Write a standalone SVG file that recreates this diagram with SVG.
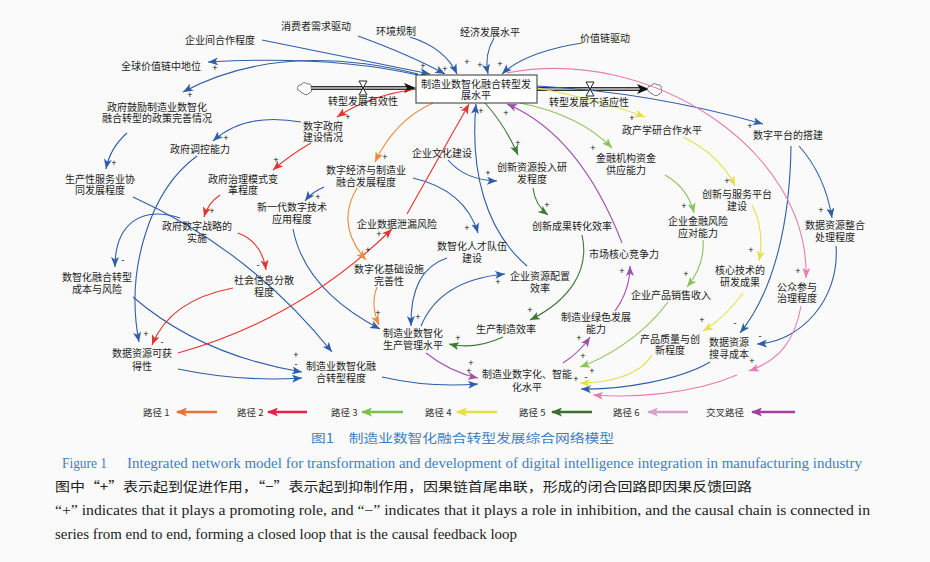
<svg xmlns="http://www.w3.org/2000/svg" width="930" height="562" viewBox="0 0 930 562">
<defs>
<style>
.n{font-family:"Noto Sans CJK SC","Noto Sans",sans-serif;font-size:10px;fill:#222;text-anchor:middle}
.s{font-family:"Liberation Sans",sans-serif;font-size:9px;fill:#111;text-anchor:middle}
.e{fill:none;stroke-width:1.1}
.b{stroke:#2e5ea8}.r{stroke:#e8322f}.o{stroke:#f08a3a}.g{stroke:#88c35a}.y{stroke:#e4e04a}.d{stroke:#3d7a33}.p{stroke:#e87db0}.u{stroke:#a04fb0}
.lg{fill:none;stroke-width:2.4}
.lt{font-family:"Noto Sans CJK SC","Noto Sans",sans-serif;font-size:9.5px;fill:#333}
</style>
<marker id="mb" markerUnits="userSpaceOnUse" markerWidth="10" markerHeight="8" refX="10" refY="4" orient="auto"><path d="M0,0 L10,4 L0,8 L2.5,4 Z" fill="#2e5ea8"/></marker>
<marker id="mr" markerUnits="userSpaceOnUse" markerWidth="10" markerHeight="8" refX="10" refY="4" orient="auto"><path d="M0,0 L10,4 L0,8 L2.5,4 Z" fill="#e8322f"/></marker>
<marker id="mo" markerUnits="userSpaceOnUse" markerWidth="10" markerHeight="8" refX="10" refY="4" orient="auto"><path d="M0,0 L10,4 L0,8 L2.5,4 Z" fill="#f08a3a"/></marker>
<marker id="mg" markerUnits="userSpaceOnUse" markerWidth="10" markerHeight="8" refX="10" refY="4" orient="auto"><path d="M0,0 L10,4 L0,8 L2.5,4 Z" fill="#88c35a"/></marker>
<marker id="my" markerUnits="userSpaceOnUse" markerWidth="10" markerHeight="8" refX="10" refY="4" orient="auto"><path d="M0,0 L10,4 L0,8 L2.5,4 Z" fill="#e4e04a"/></marker>
<marker id="md" markerUnits="userSpaceOnUse" markerWidth="10" markerHeight="8" refX="10" refY="4" orient="auto"><path d="M0,0 L10,4 L0,8 L2.5,4 Z" fill="#3d7a33"/></marker>
<marker id="mp" markerUnits="userSpaceOnUse" markerWidth="10" markerHeight="8" refX="10" refY="4" orient="auto"><path d="M0,0 L10,4 L0,8 L2.5,4 Z" fill="#e87db0"/></marker>
<marker id="mu" markerUnits="userSpaceOnUse" markerWidth="10" markerHeight="8" refX="10" refY="4" orient="auto"><path d="M0,0 L10,4 L0,8 L2.5,4 Z" fill="#a04fb0"/></marker>
<marker id="l1" markerUnits="userSpaceOnUse" markerWidth="11" markerHeight="9" refX="10" refY="4.5" orient="auto"><path d="M0,0 L11,4.5 L0,9 L2.5,4.5 Z" fill="#e8703a"/></marker>
<marker id="l2" markerUnits="userSpaceOnUse" markerWidth="11" markerHeight="9" refX="10" refY="4.5" orient="auto"><path d="M0,0 L11,4.5 L0,9 L2.5,4.5 Z" fill="#e8204a"/></marker>
<marker id="l3" markerUnits="userSpaceOnUse" markerWidth="11" markerHeight="9" refX="10" refY="4.5" orient="auto"><path d="M0,0 L11,4.5 L0,9 L2.5,4.5 Z" fill="#7cc04c"/></marker>
<marker id="l4" markerUnits="userSpaceOnUse" markerWidth="11" markerHeight="9" refX="10" refY="4.5" orient="auto"><path d="M0,0 L11,4.5 L0,9 L2.5,4.5 Z" fill="#e6e040"/></marker>
<marker id="l5" markerUnits="userSpaceOnUse" markerWidth="11" markerHeight="9" refX="10" refY="4.5" orient="auto"><path d="M0,0 L11,4.5 L0,9 L2.5,4.5 Z" fill="#3b7030"/></marker>
<marker id="l6" markerUnits="userSpaceOnUse" markerWidth="11" markerHeight="9" refX="10" refY="4.5" orient="auto"><path d="M0,0 L11,4.5 L0,9 L2.5,4.5 Z" fill="#d8a0d0"/></marker>
<marker id="l7" markerUnits="userSpaceOnUse" markerWidth="11" markerHeight="9" refX="10" refY="4.5" orient="auto"><path d="M0,0 L11,4.5 L0,9 L2.5,4.5 Z" fill="#a040a0"/></marker>
</defs>
<rect width="930" height="562" fill="#fafafa"/>

<g id="flows">
<path d="M300,91 a3,3 0 0 1 1,-6 a3.5,3.5 0 0 1 6,-1 a3,3 0 0 1 4,4 a3,3 0 0 1 -2,5 a3.5,3.5 0 0 1 -6,0 a3,3 0 0 1 -3,-2 z" fill="#fff" stroke="#555" stroke-width="0.8"/>
<line x1="311" y1="88" x2="407" y2="88" stroke="#333" stroke-width="4"/>
<line x1="311" y1="88" x2="407" y2="88" stroke="#c8c8c8" stroke-width="1.6"/>
<polygon points="404,83 416,88 404,93 407,88" fill="#111"/>
<path d="M359,81 H367 L363,88 Z M359,95 H367 L363,88 Z" fill="#fff" stroke="#111" stroke-width="0.9"/>
<line x1="537" y1="89" x2="640" y2="89" stroke="#333" stroke-width="4"/>
<line x1="537" y1="89" x2="640" y2="89" stroke="#c8c8c8" stroke-width="1.6"/>
<polygon points="637,84 649,89 637,94 640,89" fill="#111"/>
<path d="M586,82 H594 L590,89 Z M586,96 H594 L590,89 Z" fill="#fff" stroke="#111" stroke-width="0.9"/>
<path d="M650,92 a3,3 0 0 1 1,-6 a3.5,3.5 0 0 1 6,-1 a3,3 0 0 1 4,4 a3,3 0 0 1 -2,5 a3.5,3.5 0 0 1 -6,0 a3,3 0 0 1 -3,-2 z" fill="#fff" stroke="#555" stroke-width="0.8"/>
</g>

<g id="connectors">
<path class="e b" marker-end="url(#mb)" d="M262,40 L430,74"/>
<path class="e b" marker-end="url(#mb)" d="M358,36 Q410,55 445,74"/>
<path class="e b" marker-end="url(#mb)" d="M410,37 Q445,48 457,74"/>
<path class="e b" marker-end="url(#mb)" d="M494,38 Q484,55 488,74"/>
<path class="e b" marker-end="url(#mb)" d="M582,43 Q525,52 502,74"/>
<path class="e b" marker-end="url(#mb)" d="M418,75 Q330,55 208,62"/>
<path class="e b" marker-end="url(#mb)" d="M418,74 Q280,40 183,92"/>
<path class="e b" marker-end="url(#mb)" d="M537,86 Q650,92 763,124"/>
<path class="e b" marker-end="url(#mb)" d="M799,146 Q825,175 832,218"/>
<path class="e b" marker-end="url(#mb)" d="M791,146 C790,220 775,290 740,333"/>
<path class="e b" marker-end="url(#mb)" d="M836,246 C840,300 800,342 757,344"/>
<path class="e b" marker-end="url(#mb)" d="M710,362 C680,380 620,390 581,389"/>
<path class="e b" marker-end="url(#mb)" d="M448,160 Q465,180 497,181"/>
<path class="e b" marker-end="url(#mb)" d="M413,178 Q465,190 478,233"/>
<path class="e b" marker-end="url(#mb)" d="M324,187 Q312,192 305,201"/>
<path class="e b" marker-end="url(#mb)" d="M447,258 Q410,270 411,326"/>
<path class="e b" marker-end="url(#mb)" d="M421,326 Q440,280 505,274"/>
<path class="e b" marker-end="url(#mb)" d="M527,266 C485,230 470,170 476,104"/>
<path class="e b" marker-end="url(#mb)" d="M133,197 Q250,250 332,352"/>
<path class="e b" marker-end="url(#mb)" d="M293,229 Q305,290 380,329"/>
<path class="e b" marker-end="url(#mb)" d="M197,156 C150,190 125,270 139,342"/>
<path class="e b" marker-end="url(#mb)" d="M301,122 Q245,112 213,141"/>
<path class="e b" marker-end="url(#mb)" d="M127,133 Q110,148 106,169"/>
<path class="e b" marker-end="url(#mb)" d="M180,218 C140,205 115,225 115,267"/>
<path class="e b" marker-end="url(#mb)" d="M133,297 Q200,355 302,372"/>
<path class="e b" marker-end="url(#mb)" d="M178,369 Q240,382 302,378"/>
<path class="e b" marker-end="url(#mb)" d="M382,377 Q430,388 478,384"/>

<path class="e r" marker-end="url(#mr)" d="M417,89 Q370,95 337,117"/>
<path class="e r" marker-end="url(#mr)" d="M311,143 Q290,155 273,170"/>
<path class="e r" marker-end="url(#mr)" d="M220,195 Q208,203 204,217"/>
<path class="e r" marker-end="url(#mr)" d="M238,233 Q262,242 266,270"/>
<path class="e r" marker-end="url(#mr)" d="M233,288 Q170,300 152,345"/>
<path class="e r" marker-end="url(#mr)" d="M178,353 C260,330 330,290 392,229"/>
<path class="e r" marker-end="url(#mr)" d="M407,214 L469,104"/>

<path class="e o" marker-end="url(#mo)" d="M433,103 Q395,120 375,162"/>
<path class="e o" marker-end="url(#mo)" d="M357,188 Q335,225 366,260"/>
<path class="e o" marker-end="url(#mo)" d="M377,287 Q370,305 379,325"/>

<path class="e g" marker-end="url(#mg)" d="M520,103 Q580,115 612,148"/>
<path class="e g" marker-end="url(#mg)" d="M665,175 Q688,188 694,213"/>
<path class="e g" marker-end="url(#mg)" d="M703,240 Q705,265 687,287"/>
<path class="e g" marker-end="url(#mg)" d="M668,302 C640,340 600,360 580,367"/>

<path class="e y" marker-end="url(#my)" d="M537,88 Q600,100 645,117"/>
<path class="e y" marker-end="url(#my)" d="M683,137 Q720,155 735,186"/>
<path class="e y" marker-end="url(#my)" d="M752,205 Q765,230 759,261"/>
<path class="e y" marker-end="url(#my)" d="M743,293 Q725,318 703,331"/>
<path class="e y" marker-end="url(#my)" d="M652,355 C640,375 610,383 580,383"/>

<path class="e d" marker-end="url(#md)" d="M485,103 Q505,125 518,155"/>
<path class="e d" marker-end="url(#md)" d="M533,188 Q535,205 548,215"/>
<path class="e d" marker-end="url(#md)" d="M582,235 C590,270 570,300 530,320"/>
<path class="e d" marker-end="url(#md)" d="M503,337 Q475,350 449,344"/>

<path class="e p" marker-end="url(#mp)" d="M507,73 C650,45 810,150 806,278"/>
<path class="e p" marker-end="url(#mp)" d="M801,306 C795,340 780,360 749,371"/>
<path class="e p" marker-end="url(#mp)" d="M737,375 C690,395 630,398 593,395"/>

<path class="e u" marker-end="url(#mu)" d="M622,243 Q580,135 507,104"/>
<path class="e u" marker-end="url(#mu)" d="M615,311 Q630,290 630,266"/>
<path class="e u" marker-end="url(#mu)" d="M563,363 Q580,352 590,337"/>
<path class="e u" marker-end="url(#mu)" d="M426,353 Q450,372 478,378"/>

<g id="polarity">
<text class="s" x="423" y="69">+</text><text class="s" x="445" y="72">+</text><text class="s" x="467" y="65">+</text><text class="s" x="480" y="68">+</text><text class="s" x="500" y="67">+</text>
<text class="s" x="215" y="71">+</text><text class="s" x="190" y="98">+</text>
<text class="s" x="750" y="129">+</text><text class="s" x="821" y="213">+</text>
<text class="s" x="735" y="326">-</text><text class="s" x="760" y="339">-</text>
<text class="s" x="488" y="176">+</text><text class="s" x="467" y="231">+</text><text class="s" x="318" y="200">+</text>
<text class="s" x="418" y="320">+</text><text class="s" x="498" y="285">+</text><text class="s" x="481" y="114">+</text>
<text class="s" x="146" y="337">+</text><text class="s" x="226" y="141">+</text><text class="s" x="114" y="166">+</text>
<text class="s" x="123" y="263">-</text><text class="s" x="296" y="358">+</text><text class="s" x="296" y="367">-</text>
<text class="s" x="348" y="120">+</text><text class="s" x="276" y="163">+</text><text class="s" x="212" y="214">+</text>
<text class="s" x="258" y="268">-</text><text class="s" x="162" y="345">-</text><text class="s" x="379" y="237">+</text><text class="s" x="461" y="110">-</text>
<text class="s" x="385" y="160">+</text><text class="s" x="368" y="253">+</text><text class="s" x="378" y="316">+</text>
<text class="s" x="593" y="151">+</text><text class="s" x="684" y="209">+</text><text class="s" x="686" y="277">+</text><text class="s" x="583" y="359">+</text>
<text class="s" x="632" y="121">+</text><text class="s" x="727" y="184">+</text><text class="s" x="751" y="253">+</text><text class="s" x="702" y="323">+</text>
<text class="s" x="576" y="382">+</text><text class="s" x="586" y="380">-</text><text class="s" x="592" y="374">+</text>
<text class="s" x="518" y="146">+</text><text class="s" x="547" y="208">+</text><text class="s" x="530" y="313">+</text><text class="s" x="458" y="341">+</text>
<text class="s" x="798" y="274">+</text><text class="s" x="752" y="364">+</text>
<text class="s" x="506" y="116">+</text><text class="s" x="622" y="274">+</text><text class="s" x="579" y="341">+</text><text class="s" x="471" y="366">+</text><text class="s" x="469" y="374">+</text>
</g>
</g>

<g id="n-center"><rect x="416" y="75" width="121" height="28" fill="#fff" stroke="#333" stroke-width="1"/><text class="n" x="476"><tspan x="476" y="88">制造业数智化融合转型发</tspan><tspan x="476" y="99">展水平</tspan></text></g>
<g id="n-youxiao"><text class="n" x="363" y="104.5">转型发展有效性</text></g>
<g id="n-bushiying"><text class="n" x="589" y="105.5">转型发展不适应性</text></g>
<g id="n-hezuo"><text class="n" x="220" y="43.5">企业间合作程度</text></g>
<g id="n-xuqiu"><text class="n" x="316" y="29.5">消费者需求驱动</text></g>
<g id="n-huanjing"><text class="n" x="396" y="34.5">环境规制</text></g>
<g id="n-jingji"><text class="n" x="490" y="35.5">经济发展水平</text></g>
<g id="n-jiazhi"><text class="n" x="605" y="41.5">价值链驱动</text></g>
<g id="n-quanqiu"><text class="n" x="161" y="69.5">全球价值链中地位</text></g>
<g id="n-zhengce"><text class="n"><tspan x="157" y="110.5">政府鼓励制造业数智化</tspan><tspan x="157" y="122">融合转型的政策完善情况</tspan></text></g>
<g id="n-shuzizhengfu"><text class="n"><tspan x="323" y="129.5">数字政府</tspan><tspan x="323" y="141">建设情况</tspan></text></g>
<g id="n-tiaokong"><text class="n" x="200" y="152.5">政府调控能力</text></g>
<g id="n-fuwuye"><text class="n"><tspan x="100" y="182.5">生产性服务业协</tspan><tspan x="100" y="194">同发展程度</tspan></text></g>
<g id="n-zhili"><text class="n"><tspan x="243" y="182.5">政府治理模式变</tspan><tspan x="243" y="194">革程度</tspan></text></g>
<g id="n-shuzijingji"><text class="n"><tspan x="366" y="174">数字经济与制造业</tspan><tspan x="366" y="185.5">融合发展程度</tspan></text></g>
<g id="n-wenhua"><text class="n" x="442" y="156.5">企业文化建设</text></g>
<g id="n-chuangxinziyuan"><text class="n"><tspan x="532" y="171">创新资源投入研</tspan><tspan x="532" y="182.5">发程度</tspan></text></g>
<g id="n-xinyidai"><text class="n"><tspan x="292" y="211">新一代数字技术</tspan><tspan x="292" y="222.5">应用程度</tspan></text></g>
<g id="n-zhanlue"><text class="n"><tspan x="197" y="229.5">政府数字战略的</tspan><tspan x="197" y="241.5">实施</tspan></text></g>
<g id="n-xielou"><text class="n" x="397" y="227.5">企业数据泄漏风险</text></g>
<g id="n-chengguo"><text class="n" x="572" y="229.5">创新成果转化效率</text></g>
<g id="n-rencai"><text class="n"><tspan x="472" y="250">数智化人才队伍</tspan><tspan x="472" y="261.5">建设</tspan></text></g>
<g id="n-jingzheng"><text class="n" x="624" y="257.5">市场核心竞争力</text></g>
<g id="n-jichu"><text class="n"><tspan x="389" y="273">数字化基础设施</tspan><tspan x="389" y="284.5">完善性</tspan></text></g>
<g id="n-peizhi"><text class="n"><tspan x="540" y="280">企业资源配置</tspan><tspan x="540" y="291.5">效率</tspan></text></g>
<g id="n-chengben"><text class="n"><tspan x="97" y="280.5">数智化融合转型</tspan><tspan x="97" y="292.5">成本与风险</tspan></text></g>
<g id="n-fensan"><text class="n"><tspan x="264" y="284">社会信息分散</tspan><tspan x="264" y="295.5">程度</tspan></text></g>
<g id="n-zhizao"><text class="n" x="506" y="332.5">生产制造效率</text></g>
<g id="n-guanli"><text class="n"><tspan x="413" y="336.5">制造业数智化</tspan><tspan x="413" y="348.5">生产管理水平</tspan></text></g>
<g id="n-lvse"><text class="n"><tspan x="596" y="321">制造业绿色发展</tspan><tspan x="596" y="332.5">能力</tspan></text></g>
<g id="n-kehuode"><text class="n"><tspan x="142" y="356.5">数据资源可获</tspan><tspan x="142" y="369.5">得性</tspan></text></g>
<g id="n-ronghe"><text class="n"><tspan x="341" y="369.5">制造业数智化融</tspan><tspan x="341" y="381.5">合转型程度</tspan></text></g>
<g id="n-zhineng"><text class="n"><tspan x="527" y="377.5">制造业数字化、智能</tspan><tspan x="527" y="390.5">化水平</tspan></text></g>
<g id="n-chanxueyan"><text class="n" x="662" y="133.5">政产学研合作水平</text></g>
<g id="n-jinrong"><text class="n"><tspan x="626" y="161.5">金融机构资金</tspan><tspan x="626" y="173.5">供应能力</tspan></text></g>
<g id="n-pingtai"><text class="n" x="788" y="138.5">数字平台的搭建</text></g>
<g id="n-fuwupingtai"><text class="n"><tspan x="737" y="197.5">创新与服务平台</tspan><tspan x="737" y="209.5">建设</tspan></text></g>
<g id="n-fengxian"><text class="n"><tspan x="698" y="225">企业金融风险</tspan><tspan x="698" y="236.5">应对能力</tspan></text></g>
<g id="n-zhenghe"><text class="n"><tspan x="835" y="229">数据资源整合</tspan><tspan x="835" y="240.5">处理程度</tspan></text></g>
<g id="n-hexin"><text class="n"><tspan x="740" y="274">核心技术的</tspan><tspan x="740" y="285.5">研发成果</tspan></text></g>
<g id="n-xiaoshou"><text class="n" x="671" y="298.5">企业产品销售收入</text></g>
<g id="n-gongzhong"><text class="n"><tspan x="797" y="290.5">公众参与</tspan><tspan x="797" y="302">治理程度</tspan></text></g>
<g id="n-zhiliang"><text class="n"><tspan x="670" y="342.5">产品质量与创</tspan><tspan x="670" y="354">新程度</tspan></text></g>
<g id="n-souxun"><text class="n"><tspan x="729" y="346">数据资源</tspan><tspan x="729" y="357.5">搜寻成本</tspan></text></g>

<g id="legend">
<text class="lt" x="143" y="415.5">路径 1</text><line class="lg" x1="217" y1="412" x2="177" y2="412" stroke="#e8703a" marker-end="url(#l1)"/>
<text class="lt" x="237" y="415.5">路径 2</text><line class="lg" x1="307" y1="412" x2="268" y2="412" stroke="#e8204a" marker-end="url(#l2)"/>
<text class="lt" x="331" y="415.5">路径 3</text><line class="lg" x1="403" y1="412" x2="362" y2="412" stroke="#7cc04c" marker-end="url(#l3)"/>
<text class="lt" x="425" y="415.5">路径 4</text><line class="lg" x1="497" y1="412" x2="457" y2="412" stroke="#e6e040" marker-end="url(#l4)"/>
<text class="lt" x="519" y="415.5">路径 5</text><line class="lg" x1="592" y1="412" x2="552" y2="412" stroke="#3b7030" marker-end="url(#l5)"/>
<text class="lt" x="613" y="415.5">路径 6</text><line class="lg" x1="688" y1="412" x2="648" y2="412" stroke="#d8a0d0" marker-end="url(#l6)"/>
<text class="lt" x="706" y="415.5">交叉路径</text><line class="lg" x1="795" y1="412" x2="752" y2="412" stroke="#a040a0" marker-end="url(#l7)"/>
</g>

<g id="caption">
<text x="311" y="442.5" font-family="Noto Sans CJK SC, sans-serif" font-size="12.5" fill="#3f7fbf" textLength="303" lengthAdjust="spacingAndGlyphs">图1　制造业数智化融合转型发展综合网络模型</text>
<text x="62" y="467.5" font-family="Liberation Serif, serif" font-size="14" fill="#3f7fbf" textLength="45" lengthAdjust="spacingAndGlyphs">Figure 1</text>
<text x="127" y="467.5" font-family="Liberation Serif, serif" font-size="14" fill="#3f7fbf" textLength="735" lengthAdjust="spacingAndGlyphs">Integrated network model for transformation and development of digital intelligence integration in manufacturing industry</text>
<text x="55" y="491" font-family="Noto Sans CJK SC, sans-serif" font-size="13" fill="#222" textLength="697" lengthAdjust="spacingAndGlyphs">图中“+”表示起到促进作用，“−”表示起到抑制作用，因果链首尾串联，形成的闭合回路即因果反馈回路</text>
<text x="55" y="514.5" font-family="Liberation Serif, serif" font-size="14" fill="#222" textLength="815" lengthAdjust="spacingAndGlyphs">“+” indicates that it plays a promoting role, and “−” indicates that it plays a role in inhibition, and the causal chain is connected in</text>
<text x="55" y="538.5" font-family="Liberation Serif, serif" font-size="14" fill="#222" textLength="462" lengthAdjust="spacingAndGlyphs">series from end to end, forming a closed loop that is the causal feedback loop</text>
</g>
</svg>
